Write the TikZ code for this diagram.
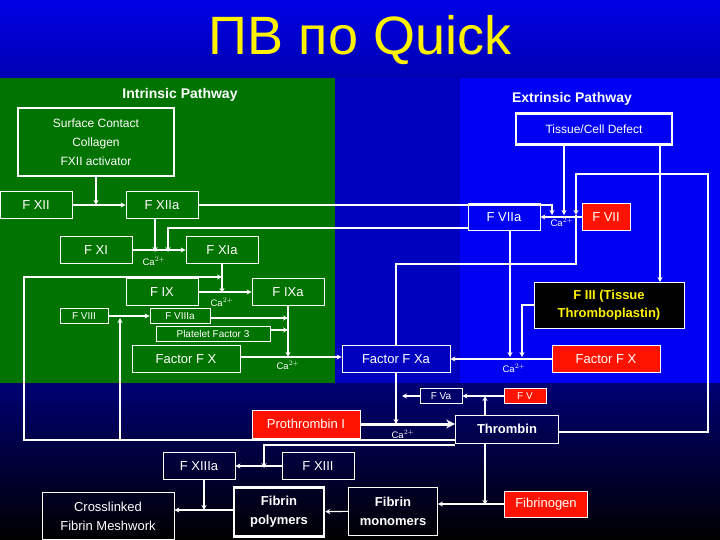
\documentclass[tikz,border=0pt]{standalone}
\usepackage{fontspec}
\setmainfont{Liberation Sans}
\usetikzlibrary{arrows.meta}

\tikzset{
    box/.style={draw=white, line width=0.8pt, text=white, inner sep=0pt,
                minimum height=27pt, font=\fontsize{13}{15}\selectfont, align=center},
    small box/.style={box, minimum height=15pt, font=\fontsize{10}{11}\selectfont},
    red box/.style={box, fill=red!85!orange},
    title/.style={text=white, font=\bfseries\fontsize{14}{16}\selectfont},
    ca/.style={text=white, font=\fontsize{9.5}{10}\selectfont, inner sep=0pt},
    arr/.style={draw=white, line width=1.1pt, -{Stealth[length=5pt,width=5pt]}},
    ln/.style={draw=white, line width=1.1pt},
}

\begin{document}
\begin{tikzpicture}[x=1pt, y=-1pt]
    % background
    \useasboundingbox (0,0) rectangle (720,540);
    \shade[top color=blue!90!black, bottom color=blue!70!black] (0,0) rectangle (720,78);
    \shade[top color=blue!45!black, bottom color=black] (0,383) rectangle (720,540);
    \fill[blue!75!black] (335,78) rectangle (460,383);
    \fill[blue!95!black] (460,78) rectangle (720,383);
    \fill[green!45!black] (0,78) rectangle (335,383);
    \node[text=yellow, font=\fontsize{54}{58}\selectfont] (head) at (360,40) {ПВ по Quick};

    \node[title] (intr) at (180,95) {Intrinsic Pathway};
    \node[title] (extr) at (572,99) {Extrinsic Pathway};

    % intrinsic
    \node[box, line width=2.5pt, minimum width=156pt, minimum height=68pt,
          font=\fontsize{12}{19}\selectfont] (surf) at (96,142)
          {Surface Contact\\Collagen\\FXII activator};
    \node[box, minimum width=72pt] (fxii) at (36,205) {F XII};
    \node[box, minimum width=72pt] (fxiia) at (162,205) {F XIIa};
    \node[box, minimum width=72pt] (fxi) at (96,250) {F XI};
    \node[box, minimum width=72pt] (fxia) at (222,250) {F XIa};
    \node[box, minimum width=72pt] (fix) at (162,292) {F IX};
    \node[box, minimum width=72pt] (fixa) at (288,292) {F IXa};
    \node[small box, minimum width=48pt] (fviii) at (84,316) {F VIII};
    \node[small box, minimum width=60pt] (fviiia) at (180,316) {F VIIIa};
    \node[small box, minimum width=114pt] (pf) at (213,334) {Platelet Factor 3};
    \node[box, minimum width=108pt] (fx) at (186,359) {Factor F X};
    \node[box, minimum width=108pt] (fxa) at (396,359) {Factor F Xa};

    % extrinsic
    \node[box, line width=2.5pt, minimum width=156pt, minimum height=31pt,
          font=\fontsize{12}{14}\selectfont] (tis) at (594,129) {Tissue/Cell Defect};
    \node[box, minimum width=72pt] (fviia) at (504,217) {F VIIa};
    \node[red box, minimum width=48pt] (fvii) at (606,217) {F VII};
    \node[box, fill=black, text=yellow, minimum width=150pt, minimum height=46pt,
          font=\bfseries\fontsize{13}{18}\selectfont] (fiii) at (609,305)
          {F III (Tissue\\Thromboplastin)};
    \node[red box, minimum width=108pt] (fxr) at (606,359) {Factor F X};

    % common
    \node[small box, minimum width=42pt] (fva) at (441,396) {F Va};
    \node[small box, fill=red!85!orange, minimum width=42pt] (fv) at (525,396) {F V};
    \node[red box, minimum width=108pt, minimum height=28pt] (proth) at (306,424) {Prothrombin I};
    \node[box, minimum width=103pt, minimum height=28pt, font=\bfseries\fontsize{13}{15}\selectfont]
          (thr) at (507,429) {Thrombin};
    \node[box, minimum width=72pt] (fxiiia) at (199,466) {F XIIIa};
    \node[box, minimum width=72pt] (fxiii) at (318,466) {F XIII};
    \node[box, minimum width=132pt, minimum height=47pt, font=\fontsize{13}{19}\selectfont]
          (cross) at (108,516) {Crosslinked\\Fibrin Meshwork};
    \node[box, line width=2.5pt, minimum width=90pt, minimum height=49pt,
          font=\bfseries\fontsize{13}{19}\selectfont] (poly) at (279,512) {Fibrin\\polymers};
    \node[box, minimum width=89pt, minimum height=48pt,
          font=\bfseries\fontsize{13}{19}\selectfont] (mono) at (393,511) {Fibrin\\monomers};
    \node[red box, minimum width=83pt, minimum height=26pt] (fgen) at (546,504) {Fibrinogen};

    % calcium labels
    \node[ca] (ca1) at (154,261) {Ca$^{2+}$};
    \node[ca] (ca2) at (222,302) {Ca$^{2+}$};
    \node[ca] (ca3) at (288,365) {Ca$^{2+}$};
    \node[ca] (ca4) at (562,222) {Ca$^{2+}$};
    \node[ca] (ca5) at (514,368) {Ca$^{2+}$};
    \node[ca] (ca6) at (403,434) {Ca$^{2+}$};

    % junction points
    \coordinate (j1) at (96,205);
    \coordinate (j2) at (552,215);
    \coordinate (j3) at (564,215);
    \coordinate (j4) at (576,215);
    \coordinate (j5) at (155,252);
    \coordinate (j6) at (168,252);
    \coordinate (j7) at (222,293);
    \coordinate (j8) at (120,318);
    \coordinate (j9) at (288,318);
    \coordinate (j10) at (288,330);
    \coordinate (j11) at (288,357);
    \coordinate (j12) at (510,357);
    \coordinate (j13) at (522,357);
    \coordinate (j14) at (396,424);
    \coordinate (j15) at (402,396);
    \coordinate (j16) at (485,396);
    \coordinate (j17) at (264,468);
    \coordinate (j18) at (485,505);
    \coordinate (j19) at (204,510);

    % intrinsic connections
    \draw[arr] (surf) -- (j1);
    \draw[arr] (fxii) -- (fxiia);
    \draw[arr] (fxiia.south -| j5) -- (j5);
    \draw[arr] (fxiia.east) -- (552,205) -- (j2);
    \draw[arr] (fviia.west |- 0,228) -- (168,228) -- (j6);
    \draw[arr] (fxi) -- (fxia);
    \draw[arr] (fxia) -- (j7);
    \draw[arr] (thr.west |- 0,440) -- (24,440) -- (24,277) -- (222,277);
    \draw[arr] (120,440) -- (j8);
    \draw[arr] (fix) -- (fixa);
    \draw[arr] (fviii) -- (fviiia);
    \draw[arr] (fviiia.east |- j9) -- (j9);
    \draw[arr] (pf.east |- j10) -- (j10);
    \draw[arr] (fixa) -- (j11);
    \draw[arr] (fx.east |- j11) -- (fxa.west |- j11);

    % extrinsic connections
    \draw[arr] (tis.south -| j3) -- (j3);
    \draw[arr] (tis.south -| fiii.north) ++(51,0) -- (660,282);
    \draw[arr] (fvii) -- (fviia);
    \draw[arr] (thr.east |- 0,432) -- (708,432) -- (708,174) -- (576,174) -- (j4);
    \draw[ln] (fxa.north) -- (396,264) -- (576,264) -- (j4);
    \draw[arr] (fviia.south -| j12) -- (j12);
    \draw[arr] (fiii.west) -- (522,305) -- (j13);
    \draw[arr] (fxr) -- (fxa);

    % common pathway
    \draw[arr] (fxa) -- (j14);
    \draw[arr] (fva) -- (j15);
    \draw[arr] (fv) -- (fva);
    \draw[arr] (thr.north -| j16) -- (j16);
    \draw[arr, line width=3pt, -{Stealth[length=9pt,width=9pt]}] (proth) -- (thr.west |- proth);
    \draw[arr] (thr.south -| j18) -- (j18);
    \draw[arr] (thr.south west |- 0,445) -- (264,445) -- (j17);
    \draw[arr] (fxiii) -- (fxiiia);
    \draw[arr] (fxiiia.south -| j19) -- (j19);
    \draw[arr] (fgen) -- (mono.east |- fgen);
    \draw[arr] (mono) -- (poly);
    \draw[arr] (poly.west |- j19) -- (cross.east |- j19);
\end{tikzpicture}
\end{document}
